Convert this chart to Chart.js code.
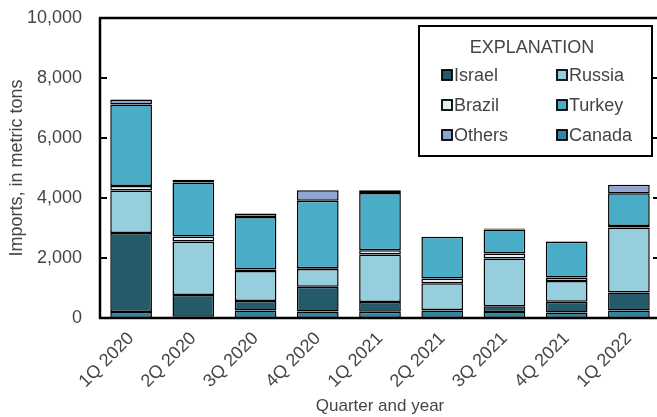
<!DOCTYPE html>
<html>
<head>
<meta charset="utf-8">
<script src="https://cdn.jsdelivr.net/npm/chart.js@4/dist/chart.umd.min.js"></script>
<style>
html,body{margin:0;padding:0;background:#fff;overflow:hidden;width:657px;height:417px;}
canvas{display:block;}
</style>
</head>
<body>
<canvas id="c" width="662" height="417"></canvas>
<script>
const categories = ["1Q 2020","2Q 2020","3Q 2020","4Q 2020","1Q 2021","2Q 2021","3Q 2021","4Q 2021","1Q 2022"];
const canada = [200, 40, 250, 220, 210, 250, 200, 180, 250];
const israel = [2630, 730, 320, 820, 320, 20, 190, 360, 600];
const russia = [1420, 1780, 1000, 590, 1590, 890, 1590, 690, 2170];
const brazil = [150, 170, 50, 30, 140, 160, 170, 120, 50];
const turkey = [2720, 1800, 1750, 2250, 1910, 1390, 800, 1190, 1090];
const others = [160, 90, 110, 350, 90, 0, 30, 20, 280];
const yTicks = [0, 2000, 4000, 6000, 8000, 10000];

const FONT = "'Liberation Sans', Arial, sans-serif";
const TXT = '#454545';

const series = [
  {label:'Canada', data:canada, color:'#2E86A0'},
  {label:'Israel', data:israel, color:'#245A69'},
  {label:'Russia', data:russia, color:'#96CEDE'},
  {label:'Brazil', data:brazil, color:'#DDF1F6'},
  {label:'Turkey', data:turkey, color:'#4AADC7'},
  {label:'Others', data:others, color:'#8FA5D0'}
];
const legendOrder = ['Israel','Russia','Brazil','Turkey','Others','Canada'];

const framePlugin = {
  id:'frame',
  afterDatasetsDraw(chart){
    const {ctx, chartArea:a, scales:{y}} = chart;
    ctx.save();
    ctx.strokeStyle = '#000';
    ctx.lineWidth = 2.5;
    ctx.beginPath();
    ctx.moveTo(a.left, a.bottom); ctx.lineTo(a.left, a.top); ctx.lineTo(a.right, a.top);
    ctx.lineTo(a.right, a.bottom); ctx.closePath();
    ctx.stroke();
    ctx.lineWidth = 2;
    yTicks.forEach(v=>{
      const py = Math.round(y.getPixelForValue(v));
      ctx.beginPath(); ctx.moveTo(a.left, py); ctx.lineTo(a.left+7, py); ctx.stroke();
      ctx.beginPath(); ctx.moveTo(a.right, py); ctx.lineTo(a.right-7, py); ctx.stroke();
    });
    // legend
    const L = 419, T = 26, R = 652, B = 156;
    ctx.fillStyle = '#fff';
    ctx.fillRect(L, T, R-L, B-T);
    ctx.lineWidth = 2;
    ctx.strokeRect(L, T, R-L, B-T);
    ctx.fillStyle = TXT;
    ctx.font = '18px ' + FONT;
    ctx.textAlign = 'center';
    ctx.textBaseline = 'middle';
    ctx.fillText('EXPLANATION', 532, 48);
    ctx.textAlign = 'left';
    legendOrder.forEach((name, i)=>{
      const ds = chart.data.datasets.find(d=>d.label===name);
      const col = i % 2, row = Math.floor(i/2);
      const bx = col === 0 ? 442 : 557;
      const cy = 75 + row*30;
      ctx.fillStyle = ds.backgroundColor;
      ctx.fillRect(bx, cy-5, 10, 10);
      ctx.lineWidth = 1.8;
      ctx.strokeStyle = '#000';
      ctx.strokeRect(bx, cy-5, 10, 10);
      ctx.fillStyle = TXT;
      ctx.fillText(name, bx + 12, cy + 1);
    });
    ctx.restore();
  }
};

new Chart(document.getElementById('c'), {
  type:'bar',
  data:{
    labels: categories,
    datasets: series.map(s=>({
      label:s.label, data:s.data, backgroundColor:s.color,
      borderColor:'#000', borderWidth:1.5, borderSkipped:false,
      categoryPercentage:1, barPercentage:0.67
    }))
  },
  options:{
    responsive:false,
    animation:false,
    layout:{padding:{top:18, right:2, left:0, bottom:0}},
    plugins:{legend:{display:false}, tooltip:{enabled:false}},
    scales:{
      x:{
        stacked:true,
        grid:{display:false, drawTicks:false},
        border:{display:false},
        ticks:{color:TXT, font:{family:FONT, size:18}, maxRotation:45, minRotation:45, padding:10},
        title:{display:true, text:'Quarter and year', color:TXT, font:{family:FONT, size:17}, padding:{top:0,bottom:0}},
        afterFit(s){ s.height = 99; s.paddingLeft = 0; s.paddingRight = 0; }
      },
      y:{
        stacked:true,
        min:0, max:10000,
        afterBuildTicks(s){ s.ticks = yTicks.map(v=>({value:v})); },
        grid:{display:false, drawTicks:false},
        border:{display:false},
        ticks:{color:TXT, font:{family:FONT, size:18}, padding:18,
          callback:v=>v.toLocaleString('en-US')},
        title:{display:true, text:'Imports, in metric tons', color:TXT, font:{family:FONT, size:18}, padding:{top:6,bottom:4}},
        afterFit(s){ s.width = 100; s.paddingTop = 0; s.paddingBottom = 0; }
      }
    }
  },
  plugins:[framePlugin]
});
</script>
</body>
</html>
